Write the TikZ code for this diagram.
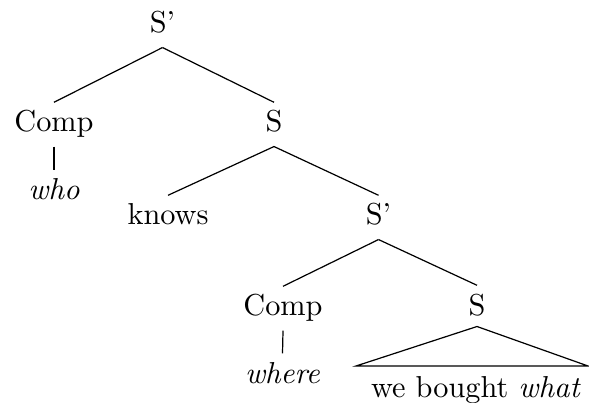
\documentclass[tikz,border=0pt]{standalone}
\begin{document}
\begin{tikzpicture}[x=0.33pt,y=-0.33pt,
  lab/.style={anchor=base,inner xsep=0pt,inner ysep=2.6pt,text height=7pt,text depth=2pt},
  edge/.style={line width=0.4pt}]
\useasboundingbox (0,0) rectangle (589,403);
\node[lab] (sp1) at (162.5,33) {S'};
\node[lab] (comp1) at (54,132) {Comp};
\node[lab] (s1) at (274,132) {S};
\node[lab] (who) at (54,200) {\textit{who}};
\node[lab] (knows) at (168,225) {knows};
\node[lab] (sp2) at (378.5,225) {S'};
\node[lab] (comp2) at (283,316) {Comp};
\node[lab] (s2) at (477,315) {S};
\node[lab] (where) at (282.5,383) {\textit{where}};
\node[lab] (wbw) at (476,397) {we bought \textit{what}};
\coordinate (tl) at (356,366);
\coordinate (tr) at (588,366);
\draw[edge] (sp1.south) -- (comp1.north);
\draw[edge] (sp1.south) -- (s1.north);
\draw[edge] (comp1.south) -- (who.north);
\draw[edge] (s1.south) -- (knows.north);
\draw[edge] (s1.south) -- (sp2.north);
\draw[edge] (sp2.south) -- (comp2.north);
\draw[edge] (sp2.south) -- (s2.north);
\draw[edge] (comp2.south) -- (where.north);
\draw[edge] ([yshift=1pt]s2.south) -- (tl) -- (tr) -- cycle;
\end{tikzpicture}
\end{document}
